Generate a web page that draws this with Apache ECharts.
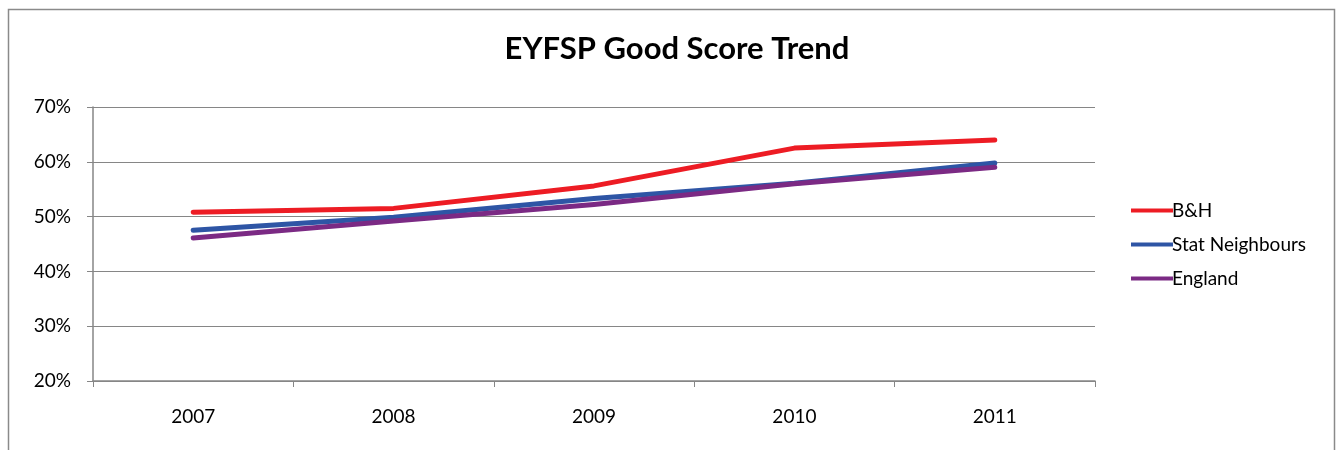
<!DOCTYPE html>
<html><head><meta charset="utf-8">
<script src="https://cdn.jsdelivr.net/npm/echarts@6/dist/echarts.min.js"></script>
<style>html,body{margin:0;padding:0;background:#fff}#c{width:1340px;height:450px}</style>
</head><body><div id="c"></div>
<script>
const categories = ['2007','2008','2009','2010','2011'];
const bh = [50.8, 51.5, 55.6, 62.5, 64.0];
const statNeighbours = [47.5, 49.9, 53.3, 56.1, 59.8];
const england = [46.1, 49.2, 52.2, 56.0, 59.0];
const seriesNames = ['B&H', 'Stat Neighbours', 'England'];
const colors = ['#ED1C24', '#2E55A5', '#7B2A84'];

const chart = echarts.init(document.getElementById('c'));
const font = 'Lato, "Open Sans", sans-serif';
chart.setOption({
  animation: false,
  title: { text: 'EYFSP Good Score Trend', left: 672, top: 28, textAlign: 'center',
    textStyle: { fontFamily: font, fontSize: 31, fontWeight: 'bold', color: '#000' } },
  graphic: [{ type: 'rect', shape: { x: 8.5, y: 9.5, width: 1326, height: 500 },
    style: { fill: 'none', stroke: '#8a8a8a', lineWidth: 1.5 }, silent: true }],
  legend: { orient: 'vertical', left: 1126, top: 196, itemGap: 15, itemWidth: 42, itemHeight: 22,
    icon: 'path://M0,9 L42,9 L42,13 L0,13 Z',
    textStyle: { fontFamily: font, fontSize: 19, color: '#000', padding: [0,0,0,-6] },
    data: seriesNames },
  grid: { left: 93, right: 245, top: 107, bottom: 69, containLabel: false },
  xAxis: { type: 'category', data: categories, boundaryGap: true,
    axisLine: { lineStyle: { color: '#868686', width: 1.5 } },
    axisTick: { show: true, length: 6, lineStyle: { color: '#868686' } },
    axisLabel: { fontFamily: font, fontSize: 19, color: '#000', margin: 26 } },
  yAxis: { type: 'value', min: 20, max: 70, interval: 10,
    axisLine: { show: true, lineStyle: { color: '#868686', width: 1.5 } },
    axisTick: { show: true, length: 6, lineStyle: { color: '#868686' } },
    splitLine: { lineStyle: { color: '#868686', width: 1 } },
    axisLabel: { fontFamily: font, fontSize: 19, color: '#000', margin: 22, formatter: '{value}%' } },
  series: [bh, statNeighbours, england].map((d, i) => ({
    name: seriesNames[i], type: 'line', data: d, symbol: 'none',
    lineStyle: { color: colors[i], width: 5, cap: 'round', join: 'round' },
    itemStyle: { color: colors[i] }
  }))
});
</script></body></html>
